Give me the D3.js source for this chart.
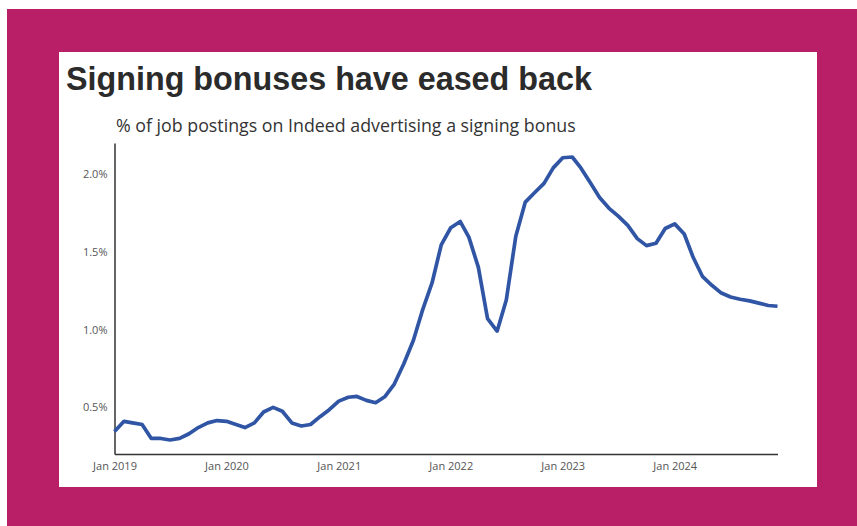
<!DOCTYPE html>
<html>
<head>
<meta charset="utf-8">
<script src="https://cdn.jsdelivr.net/npm/d3@7"></script>
<style>
  html, body { margin: 0; padding: 0; background: #ffffff; }
  svg { display: block; }
</style>
</head>
<body>
<svg id="chart" width="857" height="526"></svg>
<script>
// Monthly share of job postings advertising a signing bonus (%), Jan 2019 – Dec 2024
const startMonth = "2019-01";
const bonusShare = [
  0.345, 0.41, 0.40, 0.39, 0.30, 0.30, 0.29, 0.30, 0.33, 0.37, 0.40, 0.415,
  0.41, 0.39, 0.37, 0.40, 0.47, 0.50, 0.475, 0.40, 0.38, 0.39, 0.44, 0.485,
  0.54, 0.565, 0.57, 0.545, 0.53, 0.57, 0.65, 0.78, 0.93, 1.125, 1.30, 1.545,
  1.655, 1.695, 1.595, 1.40, 1.07, 0.99, 1.19, 1.60, 1.82, 1.88, 1.94, 2.04,
  2.105, 2.11, 2.04, 1.945, 1.85, 1.78, 1.73, 1.67, 1.585, 1.54, 1.555, 1.65,
  1.68, 1.615, 1.465, 1.34, 1.285, 1.235, 1.21, 1.195, 1.185, 1.17, 1.155, 1.15
];
const yTicks = [0.5, 1.0, 1.5, 2.0];
const xTickYears = [2019, 2020, 2021, 2022, 2023, 2024];
const titleText = "Signing bonuses have eased back";
const subtitleText = "% of job postings on Indeed advertising a signing bonus";

const parseMonth = d3.timeParse("%Y-%m");
const firstDate = parseMonth(startMonth);
const series = bonusShare.map((v, i) => ({ date: d3.timeMonth.offset(firstDate, i), value: v }));

const svg = d3.select("#chart");

// Frame: magenta backdrop with a white card
svg.append("rect").attr("x", 7).attr("y", 9).attr("width", 850).attr("height", 517).attr("fill", "#b81f66");
svg.append("rect").attr("x", 59).attr("y", 52).attr("width", 758).attr("height", 435).attr("fill", "#ffffff");

// Titles
svg.append("text")
  .attr("x", 66).attr("y", 90)
  .attr("font-family", "'Liberation Sans', Arial, sans-serif")
  .attr("font-weight", "bold")
  .attr("font-size", 32.3)
  .attr("fill", "#2b2b2b")
  .text(titleText);

svg.append("text")
  .attr("x", 116).attr("y", 132)
  .attr("font-family", "'Open Sans', 'Noto Sans', sans-serif")
  .attr("font-size", 17.8)
  .attr("fill", "#333333")
  .text(subtitleText);

// Plot area
const plot = { left: 114.5, right: 777.5, top: 143, bottom: 454 };

const x = d3.scaleTime()
  .domain([series[0].date, series[series.length - 1].date])
  .range([plot.left, plot.right]);

const y = d3.scaleLinear()
  .domain([0.2, 2.2])
  .range([plot.bottom, plot.top]);

const tickFont = "'Open Sans', 'Noto Sans', sans-serif";

// Y axis
const yAxis = svg.append("g")
  .attr("transform", `translate(${plot.left},0)`)
  .call(d3.axisLeft(y).tickValues(yTicks).tickSize(0).tickPadding(7).tickFormat(d => d3.format(".1f")(d) + "%"));
yAxis.select(".domain").attr("stroke", "#333333").attr("stroke-width", 1.5);
yAxis.selectAll("text").attr("font-family", tickFont).attr("font-size", 11).attr("fill", "#555555");

// X axis
const xAxis = svg.append("g")
  .attr("transform", `translate(0,${plot.bottom})`)
  .call(d3.axisBottom(x)
    .tickValues(xTickYears.map(yr => new Date(yr, 0, 1)))
    .tickSize(0).tickPadding(8)
    .tickFormat(d3.timeFormat("Jan %Y")));
xAxis.select(".domain").attr("stroke", "#333333").attr("stroke-width", 1.5);
xAxis.selectAll("text").attr("font-family", tickFont).attr("font-size", 11).attr("fill", "#555555");

// Line
const line = d3.line()
  .x(d => x(d.date))
  .y(d => y(d.value));

svg.append("path")
  .datum(series)
  .attr("d", line)
  .attr("fill", "none")
  .attr("stroke", "#2f55a4")
  .attr("stroke-width", 3.7)
  .attr("stroke-linejoin", "round")
  .attr("stroke-linecap", "butt");
</script>
</body>
</html>
